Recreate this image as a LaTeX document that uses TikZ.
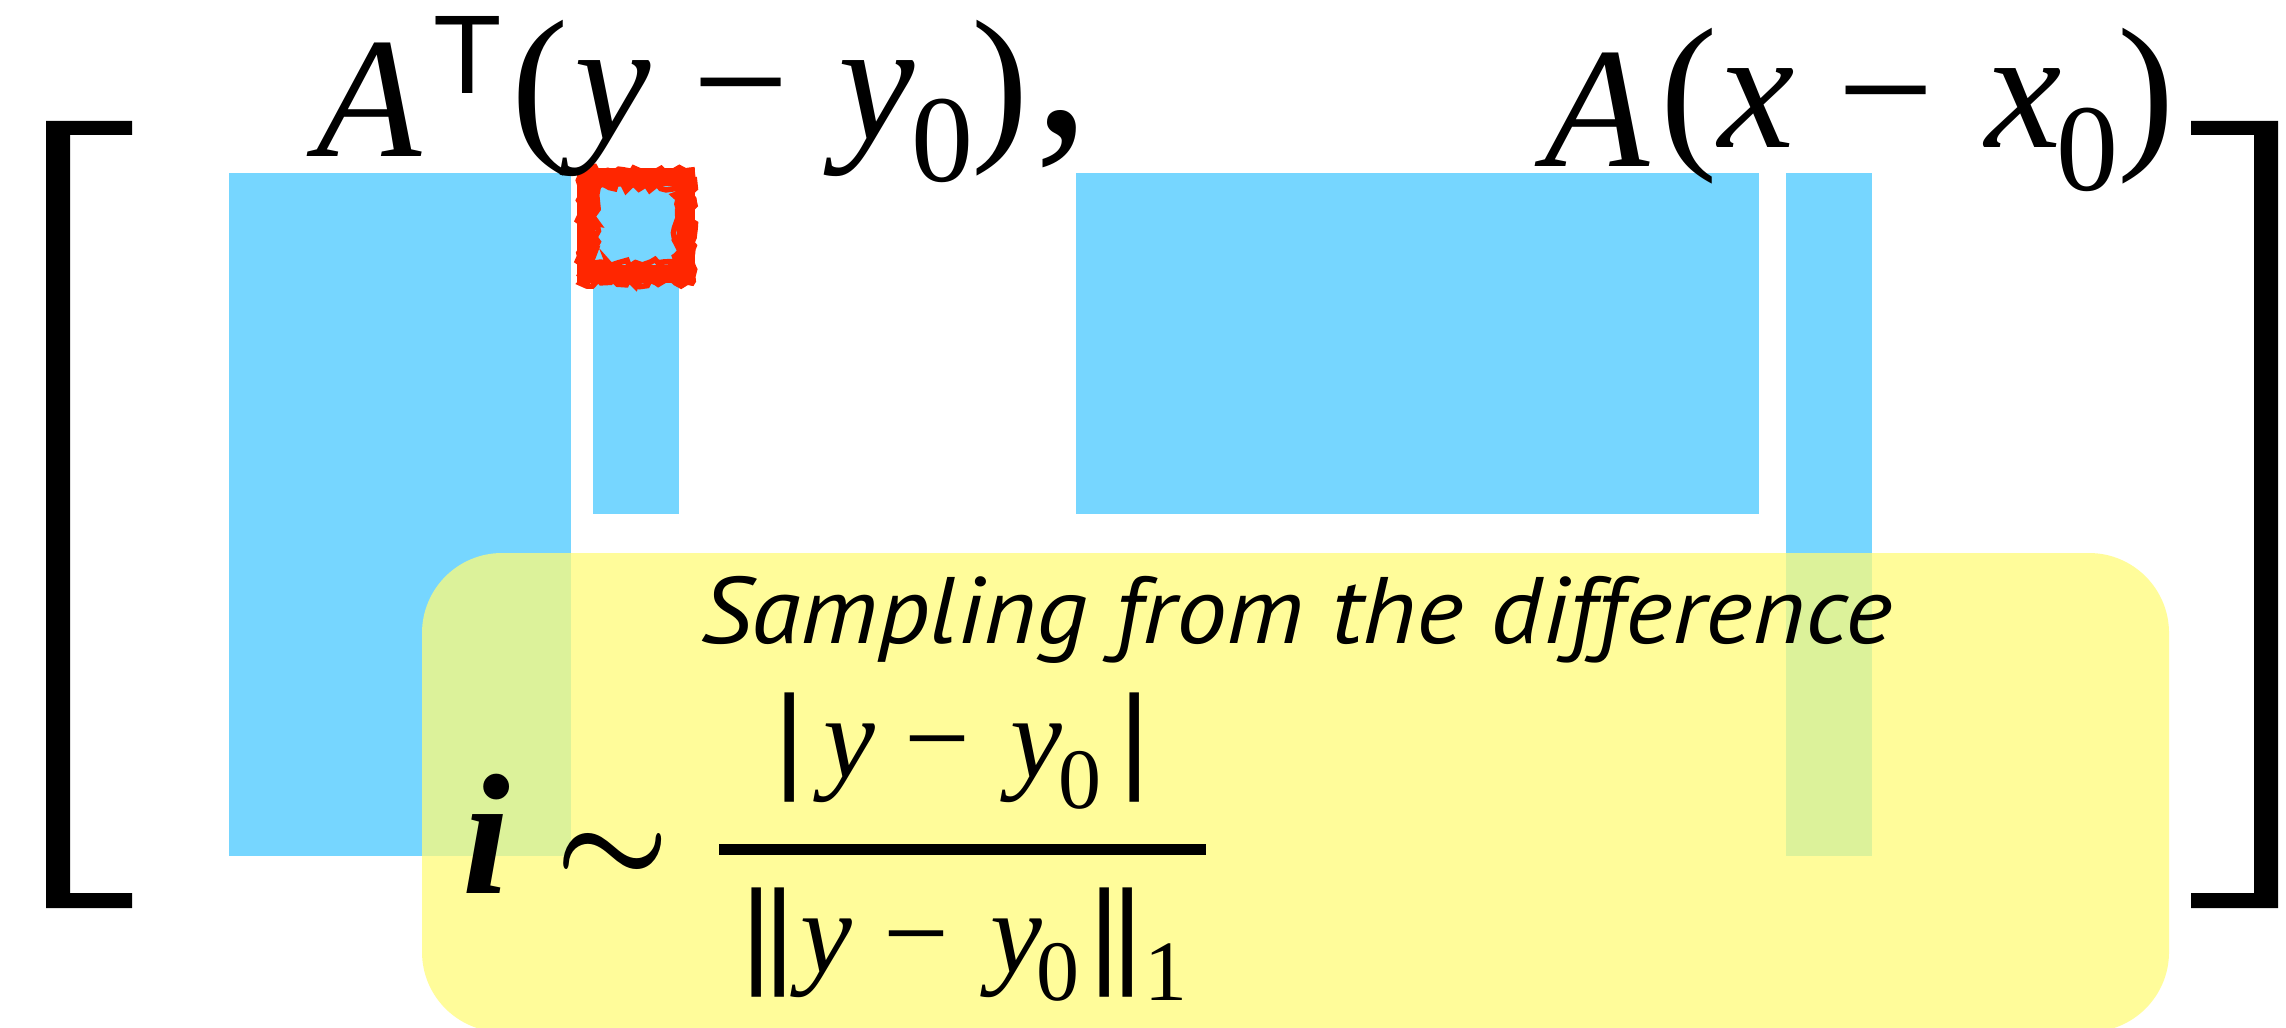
\documentclass[tikz,border=0pt]{standalone}
\usepackage{amsmath}
\usepackage{fontspec}
\usepackage{graphicx}
\usetikzlibrary{decorations.pathmorphing}
\newfontfamily\mf{Liberation Serif}
\newfontfamily\sansf{Liberation Sans}
\newfontfamily\capf{PT Sans}
\definecolor{blk}{HTML}{76D6FF}
\definecolor{redc}{HTML}{FF2600}
\definecolor{yel}{HTML}{FFFC79}
\tikzset{
  bluebox/.style={fill=blk, draw=none},
  txt/.style={inner sep=0pt, outer sep=0pt, anchor=base west, text=black},
  brack/.style={fill=black, draw=none},
}
\begin{document}
\begin{tikzpicture}[x=0.25pt, y=-0.25pt]
\useasboundingbox (0,0) rectangle (2286,1027);
\fill[white] (0,0) rectangle (2286,1027);
% blue blocks
\fill[bluebox] (229,173) rectangle (571,856);
\fill[bluebox] (593,173) rectangle (679,514);
\fill[bluebox] (1076,173) rectangle (1759,514);
\fill[bluebox] (1786,173) rectangle (1872,856);
% red rough box
\pgfmathsetseed{7}
\draw[redc, line width=4.6pt] (586,177) rectangle (686,274);
\draw[redc, line width=1.4pt, decorate, decoration={random steps, segment length=1.2pt, amplitude=0.9pt}] (580,170) rectangle (692,283);
\draw[redc, line width=1.4pt, decorate, decoration={random steps, segment length=1.2pt, amplitude=0.9pt}] (595,187) rectangle (677,263);
% yellow overlay
\fill[yel, opacity=0.75, rounded corners=20pt] (422,553) rectangle (2169,1032);
% top expressions
\node[txt] (lhs) at (316,139) {\mf\fontsize{43}{50}\selectfont
  \lower4.5pt\hbox{\itshape A}\kern3.1pt\raise11.25pt\hbox{\scalebox{0.651}{\sansf T}}\kern2.4pt(\kern1.5pt\textit{y}\kern10.3pt−\kern12.3pt\textit{y}\kern-0.8pt\lower10.5pt\hbox{\scalebox{0.721}{0}}\kern-0.5pt)\kern1.3pt\raise1.5pt\hbox{\scalebox{1.3}{,}}};
\node[txt] (rhs) at (1544,148) {\mf\fontsize{43}{50}\selectfont
  \lower4.75pt\hbox{\itshape A}\kern2.9pt(\kern0.2pt\textit{x}\kern10.7pt−\kern12.7pt\textit{x}\kern-1.3pt\lower10.75pt\hbox{\scalebox{0.721}{0}}\kern-0.3pt)};
% caption
\node[txt] (cap) at (700,643) {\capf\itshape\fontsize{23.6}{28}\selectfont\resizebox{298pt}{\height}{Sampling from the difference}};
% i ~ fraction
\node[txt] (ivar) at (462,893) {\mf\fontsize{43}{48}\selectfont\bfseries\itshape i};
\node[txt, anchor=base] (sim) at (613,883) {\scalebox{3.2}{$\boldsymbol{\sim}$}};
\node[txt] (num) at (774,777) {\mf\fontsize{29.2}{34}\selectfont
  {\sansf|}\kern4.7pt\textit{y}\kern7.4pt−\kern10.1pt\textit{y}\kern-1.2pt\lower7.75pt\hbox{\scalebox{0.736}{0}}\kern4.65pt{\sansf|}};
\node[txt] (den) at (741,972) {\mf\fontsize{29.2}{34}\selectfont
  {\sansf|}\kern-1.85pt{\sansf|}\kern1.5pt\textit{y}\kern7.9pt−\kern10.3pt\textit{y}\kern-1.5pt\lower7pt\hbox{\scalebox{0.736}{0}}\kern2.4pt{\sansf|}\kern-1.85pt{\sansf|}\kern0.35pt\lower7pt\hbox{\scalebox{0.736}{1}}};
\coordinate (barL) at (719,849);
\coordinate (barR) at (1206,849);
\draw[line width=2.75pt] (barL) -- (barR);
% brackets
\fill[brack] (46,121) -- (132,121) -- (132,135) -- (70,135) -- (70,893) -- (132,893) -- (132,908) -- (46,908) -- cycle;
\fill[brack] (2278,121) -- (2191,121) -- (2191,135) -- (2254,135) -- (2254,893) -- (2191,893) -- (2191,908) -- (2278,908) -- cycle;
\end{tikzpicture}
\end{document}
